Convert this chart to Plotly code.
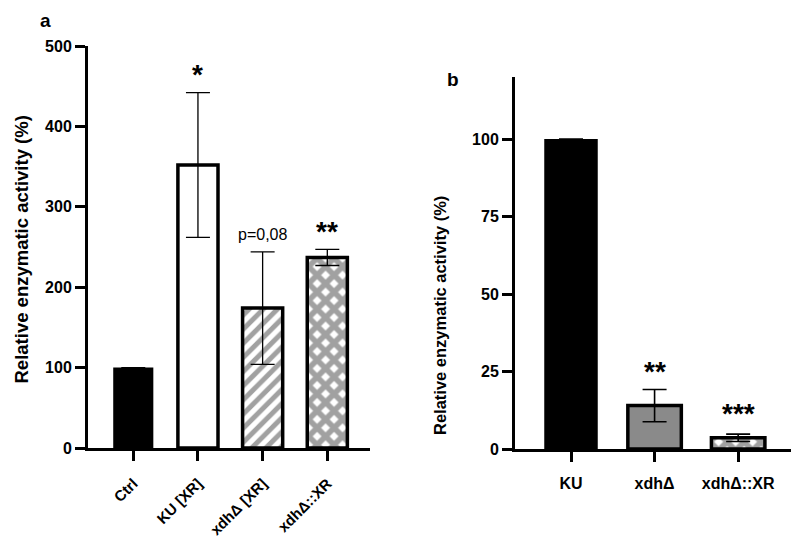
import plotly.graph_objects as go

W, H = 799, 544
OFF = 8  # page body margin
FW, FH = W - OFF, H - OFF

def px(x):
    return (x - OFF) / FW

def py(y):
    return 1 - (y - OFF) / FH

# Panel a data
cat_a = ["Ctrl", "KU [XR]", "xdhΔ [XR]", "xdhΔ::XR"]
val_a = [100, 352, 174, 237]
err_a = [0, 90, 70, 10]
sig_a = ["", "*", "p=0,08", "**"]

# Panel b data
cat_b = ["KU", "xdhΔ", "xdhΔ::XR"]
val_b = [100, 14, 3.6]
err_b = [0, 5.2, 1.2]
sig_b = ["", "**", "***"]

GREY = "#8a8a8a"
FONT = "Liberation Sans, Arial, sans-serif"

fig = go.Figure()

# panel a
fig.add_trace(go.Bar(
    x=list(range(len(cat_a))), y=val_a, width=0.62,
    marker=dict(
        color=["black", "white", "white", "white"],
        line=dict(color="black", width=[0, 3.5, 3.5, 3.5]),
        pattern=dict(shape=["", "", "/", "x"], fgcolor=GREY, bgcolor="white",
                     size=[10, 10, 10, 12], solidity=[0.5, 0.5, 0.5, 0.72]),
    ),
    error_y=dict(type="data", array=err_a, visible=True, color="black", thickness=1.3, width=12),
    xaxis="x", yaxis="y", showlegend=False,
))

# panel b
fig.add_trace(go.Bar(
    x=list(range(len(cat_b))), y=val_b, width=0.64,
    marker=dict(
        color=["black", GREY, "white"],
        line=dict(color="black", width=[0, 3.5, 3.5]),
        pattern=dict(shape=["", "", "x"], fgcolor=GREY, bgcolor="white",
                     size=[10, 10, 12], solidity=[0.5, 0.5, 0.72]),
    ),
    error_y=dict(type="data", array=err_b, visible=True, color="black", thickness=1.6, width=12),
    xaxis="x2", yaxis="y2", showlegend=False,
))

ann = []
for i, (v, e, s) in enumerate(zip(val_a, err_a, sig_a)):
    if not s:
        continue
    if s.startswith("p"):
        ann.append(dict(x=i, y=v + e + 9, xref="x", yref="y", text=s, showarrow=False,
                        yanchor="bottom", font=dict(size=16, color="black", family=FONT)))
    else:
        ann.append(dict(x=i, y=v + e + 0.5, xref="x", yref="y", text="<b>" + s + "</b>", showarrow=False,
                        yanchor="bottom", font=dict(size=28, color="black", family=FONT)))
for i, (v, e, s) in enumerate(zip(val_b, err_b, sig_b)):
    if not s:
        continue
    ann.append(dict(x=i, y=v + e + (0 if len(s) == 2 else 1), xref="x2", yref="y2", text="<b>" + s + "</b>",
                    showarrow=False, yanchor="bottom", font=dict(size=28, color="black", family=FONT)))

ann += [
    dict(x=px(45), y=py(8), xref="paper", yref="paper", text="<b>a</b>", showarrow=False,
         xanchor="center", yanchor="top", font=dict(size=19, color="black", family=FONT)),
    dict(x=px(453), y=py(80), xref="paper", yref="paper", text="<b>b</b>", showarrow=False,
         xanchor="center", yanchor="middle", font=dict(size=19, color="black", family=FONT)),
    dict(x=px(8), y=py(250), xref="paper", yref="paper", text="<b>Relative enzymatic activity (%)</b>",
         textangle=-90, showarrow=False, xanchor="left", yanchor="middle",
         font=dict(size=18.5, color="black", family=FONT)),
    dict(x=px(440), y=py(316), xref="paper", yref="paper", text="<b>Relative enzymatic activity (%)</b>",
         textangle=-90, showarrow=False, xanchor="center", yanchor="middle",
         font=dict(size=16.5, color="black", family=FONT)),
]

axis_common = dict(showgrid=False, zeroline=False, showline=True, linecolor="black", linewidth=3,
                   ticks="outside", ticklen=10, tickwidth=3, tickcolor="black", automargin=False)

fig.update_layout(
    width=FW, height=FH, margin=dict(l=0, r=0, t=0, b=0),
    paper_bgcolor="white", plot_bgcolor="white",
    xaxis=dict(domain=[px(88), px(370)], range=[-0.7, 3.66], tickmode="array",
               tickvals=list(range(len(cat_a))), ticktext=["<b>" + c + "</b>" for c in cat_a],
               tickangle=-45, anchor="y", ticklabelstandoff=8,
               tickfont=dict(size=15, color="black", family=FONT), **axis_common),
    yaxis=dict(domain=[py(448), py(46)], range=[0, 500], tickmode="array",
               tickvals=[0, 100, 200, 300, 400, 500], ticktext=["<b>%d</b>" % t for t in [0, 100, 200, 300, 400, 500]],
               anchor="x", tickfont=dict(size=16, color="black", family=FONT), **axis_common),
    xaxis2=dict(domain=[px(515), px(795)], range=[-0.67, 2.68], tickmode="array",
                tickvals=list(range(len(cat_b))), ticktext=["<b>" + c + "</b>" for c in cat_b],
                tickangle=0, anchor="y2", ticklabelstandoff=8,
                tickfont=dict(size=16, color="black", family=FONT), **axis_common),
    yaxis2=dict(domain=[py(449), py(77)], range=[0, 120], tickmode="array",
                tickvals=[0, 25, 50, 75, 100], ticktext=["<b>%d</b>" % t for t in [0, 25, 50, 75, 100]],
                anchor="x2", tickfont=dict(size=16, color="black", family=FONT), **axis_common),
    annotations=ann,
)

fig.write_html("out.html")
